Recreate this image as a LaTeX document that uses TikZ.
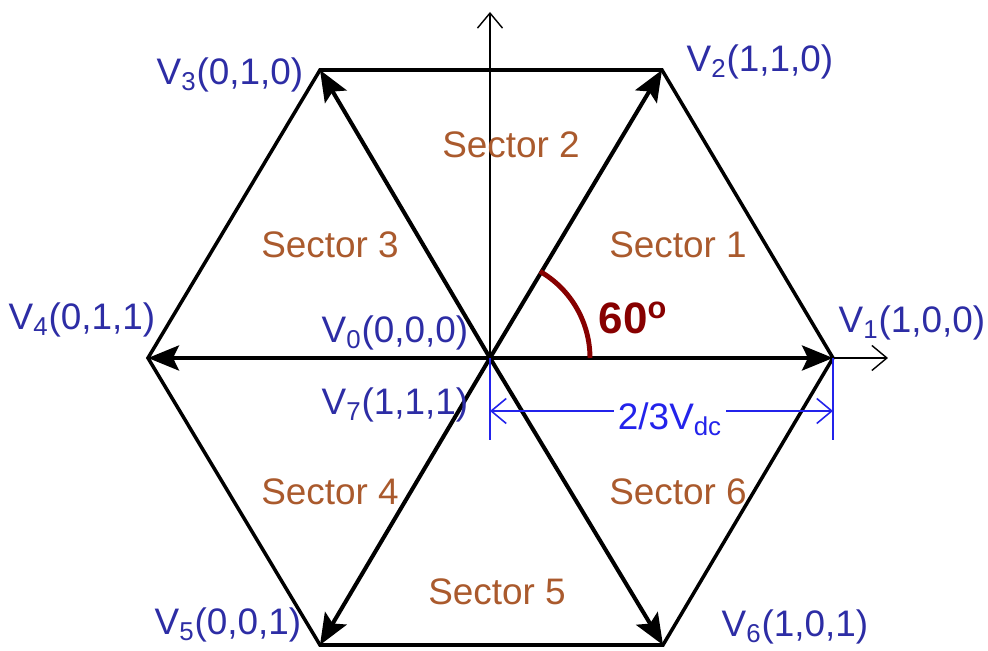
\documentclass[tikz,border=0pt]{standalone}
\usepackage{fontspec}
\setmainfont{Liberation Sans}
\usetikzlibrary{arrows.meta}
\definecolor{etiq}{RGB}{45,45,165}
\definecolor{sector}{RGB}{170,90,45}
\definecolor{cota}{RGB}{35,35,235}
\definecolor{angulo}{RGB}{135,0,0}
\tikzset{
  texto/.style={font=\fontsize{21}{24}\selectfont, inner sep=1pt},
  etiqueta/.style={texto, text=etiq},
  nombre/.style={texto, text=sector},
  vec/.style={line width=2.3pt, -{Stealth[length=0.62cm,width=0.5cm,inset=0.12cm]}},
  eje/.style={line width=0.8pt, -{Straight Barb[length=0.3cm,width=0.5cm]}},
}
\begin{document}
\begin{tikzpicture}
            \useasboundingbox (-9.8,-5.86) rectangle (9.96,7.16);
            % Vertices del hexagono
            \coordinate (o) at (0,0);
            \coordinate (v1) at (6.86,0);
            \coordinate (v2) at (3.44,5.76);
            \coordinate (v3) at (-3.40,5.76);
            \coordinate (v4) at (-6.84,0);
            \coordinate (v5) at (-3.40,-5.74);
            \coordinate (v6) at (3.46,-5.74);
            \coordinate (ex) at (7.96,0);
            \coordinate (ey) at (0,6.92);
            % Ejes
            \draw[eje] (o) -- (ex);
            \draw[eje] (o) -- (ey);
            % Hexagono y vectores
            \draw[line width=2pt, line join=miter] (v1) -- (v2) -- (v3) -- (v4) -- (v5) -- (v6) -- cycle;
            \foreach \v in {v1,v2,v3,v4,v5,v6}
                \draw[vec] (o) -- (\v);
            % Cota
            \coordinate (c0) at (0,-1.64);
            \coordinate (c1) at (6.86,-1.64);
            \coordinate (d0) at (0,-1.06);
            \coordinate (d1) at (6.86,-1.06);
            \draw[cota, line width=0.9pt] (o) -- (c0) (v1) -- (c1);
            \draw[cota, line width=0.9pt, {Straight Barb[length=0.3cm,width=0.5cm]}-{Straight Barb[length=0.3cm,width=0.5cm]}] (d0) -- (d1);
            \node[texto, text=cota, fill=white, inner sep=2pt] (dc) at (3.6,-1.22) {2/3V\textsubscript{dc}};
            % Angulo
            \draw[angulo, line width=2.8pt] (2,0) arc[start angle=0, end angle=60, radius=2];
            \node[texto, text=angulo, font=\fontsize{25}{28}\selectfont\bfseries] (ang) at (2.86,0.80) {60\textsuperscript{o}};
            % Etiquetas de los vectores
            \node[etiqueta] (lv1) at (8.44,0.7) {V\textsubscript{1}(1,0,0)};
            \node[etiqueta] (lv2) at (5.4,5.92) {V\textsubscript{2}(1,1,0)};
            \node[etiqueta] (lv3) at (-5.2,5.66) {V\textsubscript{3}(0,1,0)};
            \node[etiqueta] (lv4) at (-8.16,0.76) {V\textsubscript{4}(0,1,1)};
            \node[etiqueta] (lv5) at (-5.24,-5.34) {V\textsubscript{5}(0,0,1)};
            \node[etiqueta] (lv6) at (6.1,-5.38) {V\textsubscript{6}(1,0,1)};
            \node[etiqueta] (lv0) at (-1.9,0.5) {V\textsubscript{0}(0,0,0)};
            \node[etiqueta] (lv7) at (-1.9,-0.94) {V\textsubscript{7}(1,1,1)};
            % Sectores
            \foreach \n/\p in {1/{(3.76,2.26)},2/{(0.42,4.26)},3/{(-3.2,2.26)},4/{(-3.2,-2.68)},5/{(0.14,-4.68)},6/{(3.76,-2.68)}}
                \node[nombre] (s\n) at \p {Sector \n};
        \end{tikzpicture}
\end{document}
